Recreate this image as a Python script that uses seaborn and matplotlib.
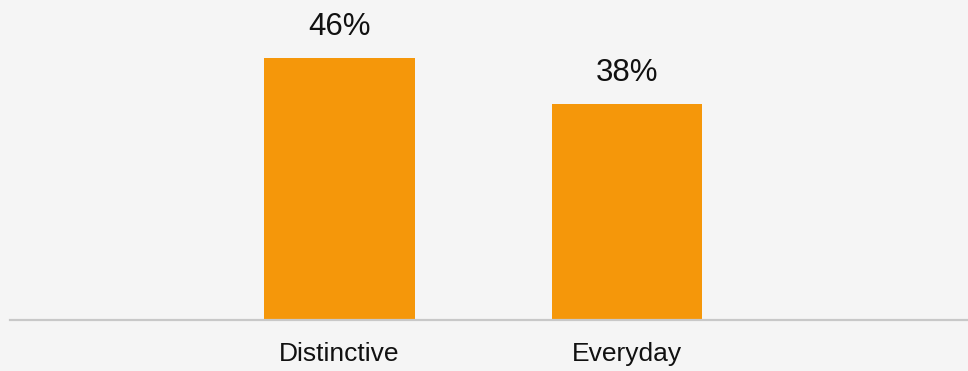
import matplotlib
matplotlib.use("Agg")
import matplotlib.pyplot as plt
import seaborn as sns
import pandas as pd

# data
categories = ["Distinctive", "Everyday"]
values = [46, 38]
labels = ["46%", "38%"]

BG = "#f5f5f5"
BAR = "#f5970a"

sns.set_style("white")
plt.rcParams['font.family'] = ['Liberation Sans', 'DejaVu Sans']

df = pd.DataFrame({"cat": categories, "val": values})

fig = plt.figure(figsize=(9.68, 3.71), dpi=100, facecolor=BG)
ax = fig.add_axes([10 / 968, (371 - 320) / 371, 958 / 968, 320 / 371])
ax.set_facecolor(BG)

sns.barplot(data=df, x="cat", y="val", color=BAR, width=0.525, saturation=1,
            linewidth=0, ax=ax)

for i, (v, lab) in enumerate(zip(values, labels)):
    ax.annotate(lab, (i, v), xytext=(0, 16.5), textcoords="offset points",
                ha="center", va="baseline", fontsize=22.5, color="#111111")

ax.set_xlim(-1.146, 2.186)
ax.set_ylim(0, 56.2)
ax.set_xlabel("")
ax.set_ylabel("")
ax.set_yticks([])
ax.tick_params(axis="x", length=0, pad=16, labelsize=19, labelcolor="#111111")

for s in ["top", "right", "left"]:
    ax.spines[s].set_visible(False)
ax.spines["bottom"].set_color("#c8c8c8")
ax.spines["bottom"].set_linewidth(1.6)

plt.savefig("out.png", dpi=100, facecolor=BG)
